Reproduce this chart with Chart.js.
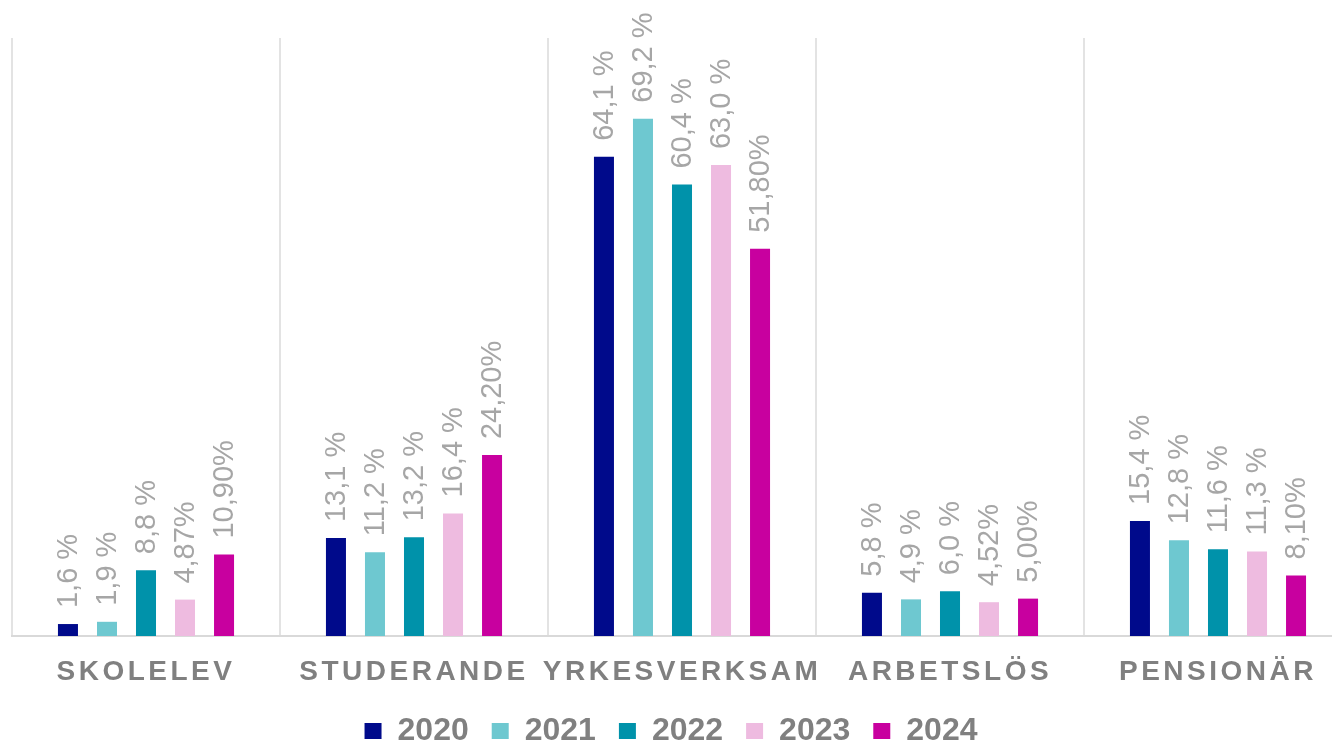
<!DOCTYPE html>
<html>
<head>
<meta charset="utf-8">
<script src="https://cdn.jsdelivr.net/npm/chart.js@4/dist/chart.umd.min.js"></script>
<style>
	html, body { margin: 0; padding: 0; background: #fff; overflow: hidden; }
	#wrap { width: 1352px; height: 745px; }
</style>
</head>
<body>
<div id="wrap"><canvas id="barChart"></canvas></div>
<script>
// Sysselsättning per år: chart data

const categories = ['SKOLELEV', 'STUDERANDE', 'YRKESVERKSAM', 'ARBETSLÖS', 'PENSIONÄR'];
const years = ['2020', '2021', '2022', '2023', '2024'];

const values2020 = [1.6, 13.1, 64.1, 5.8, 15.4];
const values2021 = [1.9, 11.2, 69.2, 4.9, 12.8];
const values2022 = [8.8, 13.2, 60.4, 6.0, 11.6];
const values2023 = [4.87, 16.4, 63.0, 4.52, 11.3];
const values2024 = [10.9, 24.2, 51.8, 5.0, 8.1];

// labels as printed above the bars
const labels2020 = ['1,6 %', '13,1 %', '64,1 %', '5,8 %', '15,4 %'];
const labels2021 = ['1,9 %', '11,2 %', '69,2 %', '4,9 %', '12,8 %'];
const labels2022 = ['8,8 %', '13,2 %', '60,4 %', '6,0 %', '11,6 %'];
const labels2023 = ['4,87%', '16,4 %', '63,0 %', '4,52%', '11,3 %'];
const labels2024 = ['10,90%', '24,20%', '51,80%', '5,00%', '8,10%'];

const colors = ['#000A8B', '#6EC8D0', '#0092AA', '#EEBBE0', '#C8009F'];

const FONT = "'Liberation Sans', Arial, sans-serif";

const seriesValues = [values2020, values2021, values2022, values2023, values2024];
const seriesLabels = [labels2020, labels2021, labels2022, labels2023, labels2024];

// rotated value labels above each bar
const valueLabels = {
	id: 'valueLabels',
	afterLayout(chart) {
		// legend sits a bit left of the canvas centre in the original
		if (chart.legend) chart.legend.right = 1330;
	},
	afterDatasetsDraw(chart) {
		const ctx = chart.ctx;
		ctx.save();
		ctx.letterSpacing = '0px';
		ctx.font = '29px ' + FONT;
		ctx.fillStyle = '#A6A6A6';
		ctx.textAlign = 'left';
		ctx.textBaseline = 'middle';
		chart.data.datasets.forEach((ds, di) => {
			const meta = chart.getDatasetMeta(di);
			meta.data.forEach((bar, i) => {
				ctx.save();
				ctx.translate(bar.x + 1, bar.y - 16);
				ctx.rotate(-Math.PI / 2);
				ctx.fillText(seriesLabels[di][i], 0, 0);
				ctx.restore();
			});
		});
		ctx.restore();
		// spaced capitals for the category names (tick layer is drawn after this)
		ctx.letterSpacing = '3.5px';
	},
	afterDraw(chart) {
		chart.ctx.letterSpacing = '0px';
	}
};

function renderChart() {
	const ctx = document.getElementById('barChart').getContext('2d');
	new Chart(ctx, {
		type: 'bar',
		data: {
			labels: categories,
			datasets: years.map((y, i) => ({
				label: y,
				data: seriesValues[i],
				backgroundColor: colors[i],
				categoryPercentage: 0.728,
				barPercentage: 0.513
			}))
		},
		options: {
			responsive: true,
			maintainAspectRatio: false,
			animation: false,
			layout: { padding: { top: 38, left: 12, right: 0, bottom: -12 } },
			plugins: {
				legend: {
					position: 'bottom',
					labels: {
						boxWidth: 17,
						boxHeight: 16,
						padding: 23,
						color: '#808080',
						font: { family: FONT, size: 32, weight: 'bold' }
					}
				},
				tooltip: { enabled: false }
			},
			scales: {
				x: {
					grid: { display: true, offset: true, color: '#E3E3E3', lineWidth: 2, drawTicks: false },
					border: { color: '#D9D9D9', width: 2 },
					ticks: {
						z: 1,
						padding: 19,
						maxRotation: 0,
						autoSkip: false,
						color: '#808080',
						font: { family: FONT, size: 28, weight: 'bold' }
					},
					afterFit: (scale) => { scale.height = 56; }
				},
				y: {
					display: false,
					min: 0,
					max: 80
				}
			}
		},
		plugins: [valueLabels]
	});
}

document.addEventListener('DOMContentLoaded', renderChart);
</script>
</body>
</html>
